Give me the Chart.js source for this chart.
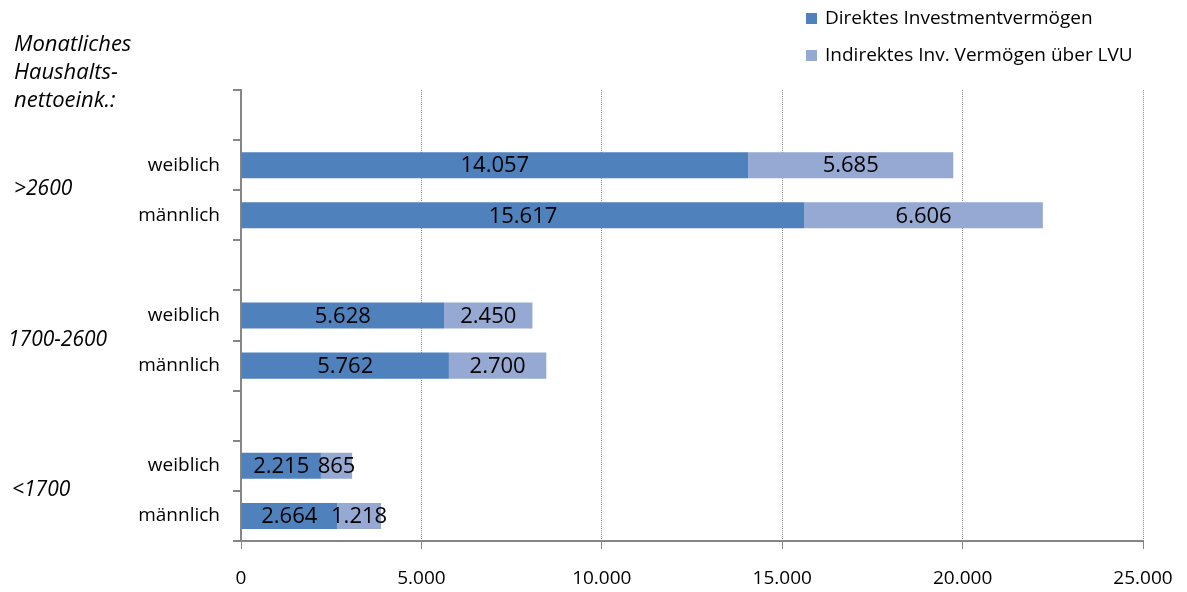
<!DOCTYPE html>
<html><head><meta charset="utf-8">
<script src="https://cdn.jsdelivr.net/npm/chart.js@4/dist/chart.umd.min.js"></script>
<style>html,body{margin:0;padding:0;background:#fff}#wrap{width:1187px;height:592px;position:relative}</style>
</head><body><div id="wrap"><canvas id="c" width="1187" height="592"></canvas></div>
<script>
const categories = ["", "weiblich", "männlich", "", "weiblich", "männlich", "", "weiblich", "männlich"];
const groupLabels = [">2600", "1700-2600", "<1700"];
const direktValues = [null, 14057, 15617, null, 5628, 5762, null, 2215, 2664];
const indirektValues = [null, 5685, 6606, null, 2450, 2700, null, 865, 1218];
const seriesNames = ["Direktes Investmentvermögen", "Indirektes Inv. Vermögen über LVU"];
const titleLines = ["Monatliches", "Haushalts-", "nettoeink.:"];
const xMin = 0, xMax = 25000, xStep = 5000;

const COL_DIR = '#4F81BD';
const COL_IND = '#95A9D2';
const FONT = '"Open Sans", sans-serif';

function fmt(v) {
  return String(Math.round(v)).replace(/\B(?=(\d{3})+(?!\d))/g, '.');
}

const labelsPlugin = {
  id: 'barLabels',
  afterDatasetsDraw(chart) {
    const ctx = chart.ctx;
    ctx.save();
    ctx.font = '22px ' + FONT;
    ctx.fillStyle = '#000';
    ctx.textAlign = 'center';
    ctx.textBaseline = 'middle';
    chart.data.datasets.forEach((ds, di) => {
      const meta = chart.getDatasetMeta(di);
      meta.data.forEach((el, i) => {
        const v = ds.data[i];
        if (v == null) return;
        const cx = (el.x + el.base) / 2;
        ctx.fillText(fmt(v), cx, el.y + 1);
      });
    });
    ctx.restore();
  }
};

const decoPlugin = {
  id: 'deco',
  afterDraw(chart) {
    const ctx = chart.ctx;
    const y = chart.scales.y;
    ctx.save();
    ctx.fillStyle = '#000';
    ctx.textAlign = 'left';
    ctx.textBaseline = 'middle';
    ctx.font = 'italic 22px ' + FONT;
    titleLines.forEach((t, i) => ctx.fillText(t, 14, 45 + i * 28));
    ctx.font = 'italic 21px ' + FONT;
    const gx = [14, 8, 12];
    groupLabels.forEach((g, gi) => {
      const a = y.getPixelForTick(gi * 3 + 1);
      const b = y.getPixelForTick(gi * 3 + 2);
      ctx.fillText(g, gx[gi], (a + b) / 2 - 1);
    });
    // legend
    ctx.font = '19px ' + FONT;
    const cols = [COL_DIR, COL_IND];
    seriesNames.forEach((s, i) => {
      const ly = 19 + i * 37;
      ctx.fillStyle = cols[i];
      ctx.fillRect(806, ly - 6, 11, 11);
      ctx.fillStyle = '#000';
      ctx.fillText(s, 825, ly);
    });
    ctx.restore();
  }
};

new Chart(document.getElementById('c'), {
  type: 'bar',
  data: {
    labels: categories,
    datasets: [
      { label: seriesNames[0], data: direktValues, backgroundColor: COL_DIR, barPercentage: 0.52, categoryPercentage: 1.0 },
      { label: seriesNames[1], data: indirektValues, backgroundColor: COL_IND, barPercentage: 0.52, categoryPercentage: 1.0 }
    ]
  },
  options: {
    indexAxis: 'y',
    responsive: false,
    animation: false,
    devicePixelRatio: 1,
    layout: { padding: { top: 90, right: 44, left: 0, bottom: 0 } },
    plugins: { legend: { display: false }, tooltip: { enabled: false } },
    scales: {
      x: {
        stacked: true,
        min: xMin, max: xMax,
        ticks: { stepSize: xStep, callback: v => fmt(v), font: { family: FONT, size: 19 }, color: '#000', padding: 18, maxRotation: 0 },
        grid: {
          color: c => c.index === 0 ? 'rgba(0,0,0,0)' : '#8c8c8c',
          tickColor: '#868686', tickLength: 8, lineWidth: 1
        },
        border: { color: '#868686', dash: [1, 1], width: 2 },
        afterFit: s => { s.height = 51; s.paddingRight = 0; s.paddingLeft = 0; }
      },
      y: {
        stacked: true,
        offset: true,
        ticks: { font: { family: FONT, size: 19 }, color: '#000', padding: 13, autoSkip: false },
        grid: { drawOnChartArea: false, offset: true, tickLength: 8, color: '#868686', lineWidth: 2 },
        border: { color: '#868686', width: 2 },
        afterFit: s => { s.width = 241; }
      }
    }
  },
  plugins: [labelsPlugin, decoPlugin]
});
</script>
</body></html>
